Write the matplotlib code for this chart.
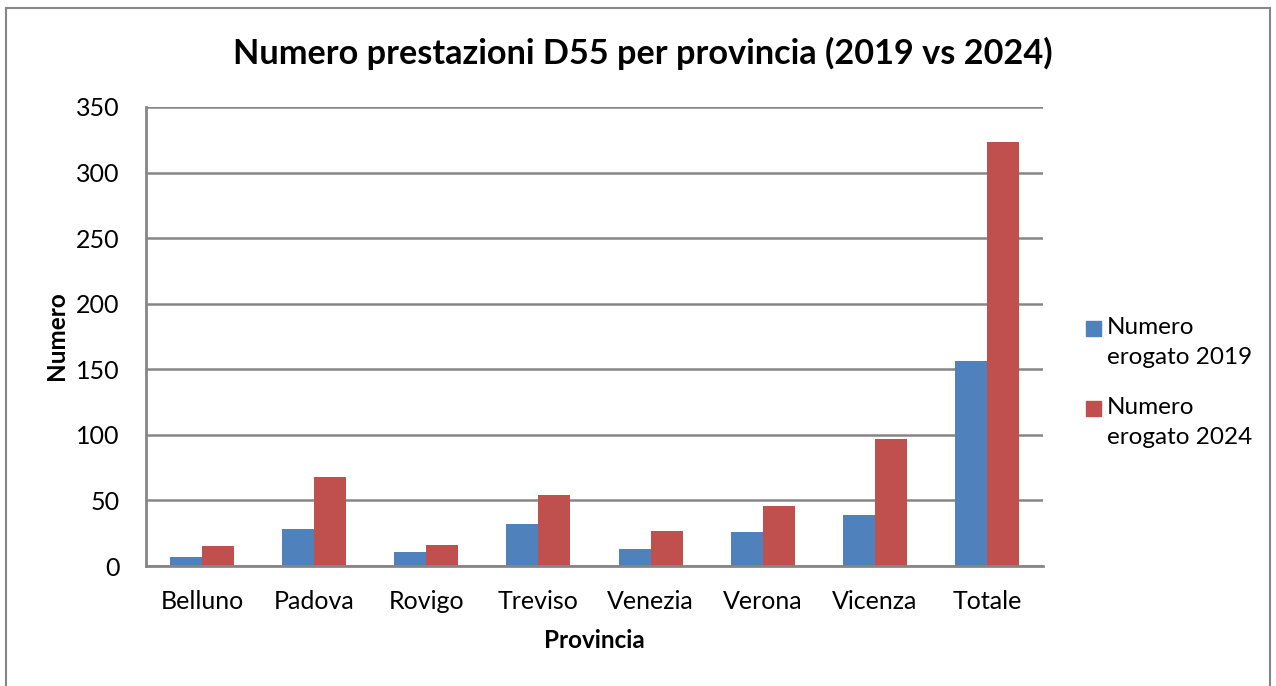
import matplotlib
matplotlib.use("Agg")
import matplotlib.pyplot as plt
import numpy as np
from matplotlib.patches import Rectangle
from matplotlib.lines import Line2D

province = ["Belluno", "Padova", "Rovigo", "Treviso", "Venezia", "Verona", "Vicenza", "Totale"]
erogato_2019 = [7, 28, 11, 32, 13, 26, 39, 156]
erogato_2024 = [15, 68, 16, 54, 27, 46, 97, 323]
series_names = ["Numero\nerogato 2019", "Numero\nerogato 2024"]
y_ticks = [0, 50, 100, 150, 200, 250, 300, 350]

plt.rcParams['font.family'] = ['Lato', 'DejaVu Sans']

W, H = 1276, 686
fig = plt.figure(figsize=(W/100, H/100), dpi=100)
ax = fig.add_axes([146/W, 1-566/H, (1043-146)/W, (566-107)/H])

x = np.arange(len(province))
w = 0.2857
c1, c2 = "#4F81BD", "#C0504D"
ax.bar(x - w/2, erogato_2019, w, color=c1, zorder=3)
ax.bar(x + w/2, erogato_2024, w, color=c2, zorder=3)

ax.set_xlim(-0.5, len(province) - 0.5)
ax.set_ylim(0, 350)
ax.set_yticks(y_ticks)
ax.set_xticks(x)
ax.set_xticklabels(province)
ax.tick_params(axis='both', length=0, labelsize=18, colors='black')
ax.tick_params(axis='y', pad=19)
ax.tick_params(axis='x', pad=17)
ax.grid(axis='y', color='#868686', linewidth=1.8, zorder=0)
for s in ['top', 'right']:
    ax.spines[s].set_visible(False)
for s in ['left', 'bottom']:
    ax.spines[s].set_color('#868686')
    ax.spines[s].set_linewidth(2)
    ax.spines[s].set_zorder(4)

fig.text(57/W, 1-336/H, "Numero", rotation=90, ha='center', va='center',
         fontsize=17.5, fontweight='bold')
fig.text(594/W, 1-641/H, "Provincia", ha='center', va='center',
         fontsize=17.5, fontweight='bold')

fig.text(643/W, 1-53/H, "Numero prestazioni D55 per provincia (2019 vs 2024)",
         ha='center', va='center', fontsize=24.7, fontweight='bold')

# legend (patch aligned with first text line, as in the reference)
for i, (name, col) in enumerate(zip(series_names, [c1, c2])):
    y0 = 321 + i * 80
    fig.add_artist(Rectangle((1086/W, 1-(y0+15)/H), 15/W, 15/H, color=col,
                             transform=fig.transFigure))
    for j, line in enumerate(name.split("\n")):
        fig.text(1107/W, 1-(y0+7+30*j)/H, line, ha='left', va='center', fontsize=17.5)

# outer chart border
for xs, ys in [([6, 6], [H, 8]), ([6, 1270], [8, 8]), ([1270, 1270], [8, H])]:
    fig.add_artist(Line2D([v/W for v in xs], [1-v/H for v in ys], color='#868686',
                          lw=1.5, transform=fig.transFigure))

fig.savefig("out.png", dpi=100)
